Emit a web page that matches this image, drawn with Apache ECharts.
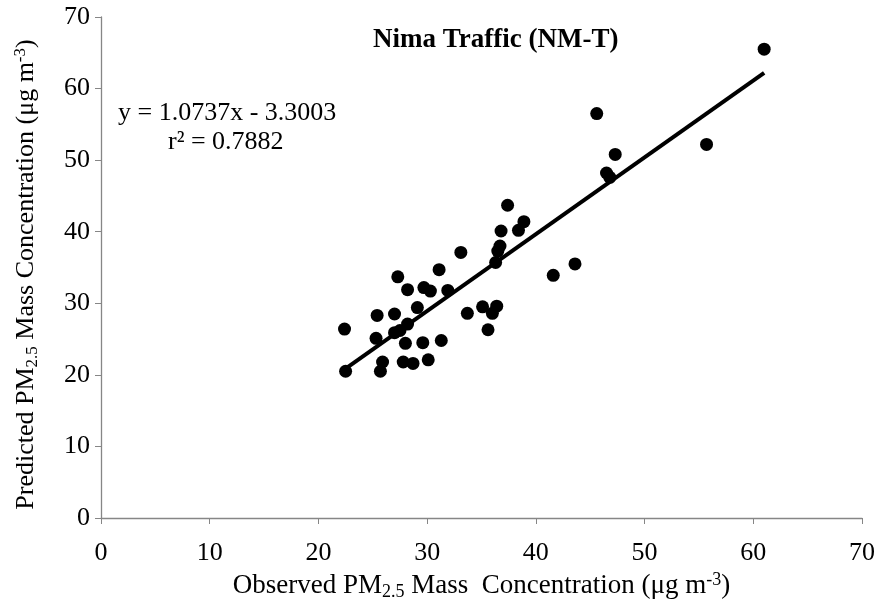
<!DOCTYPE html>
<html><head><meta charset="utf-8">
<script src="https://cdn.jsdelivr.net/npm/echarts@6/dist/echarts.min.js"></script>
<style>html,body{margin:0;padding:0;background:#fff}#c{width:879px;height:606px}</style>
</head><body><div id="c"></div>
<script>
const observed = [22.4,22.5,25.4,25.3,25.9,25.7,27.3,27.0,27.0,27.5,28.2,28.2,28.0,27.8,28.7,29.1,29.7,30.3,29.6,30.1,31.1,31.9,31.3,33.1,33.7,35.1,36.4,36.0,35.6,36.3,36.5,36.7,41.6,43.6,61.0,45.6,55.7,47.3,46.5,46.8,37.4,38.9,38.4,36.8];
const predicted = [26.4,20.5,28.3,25.1,21.8,20.5,33.7,28.5,25.9,26.2,27.1,31.9,24.4,21.8,21.6,29.4,32.2,31.7,24.5,22.1,34.7,31.8,24.8,37.1,28.6,29.5,29.6,28.6,26.3,35.7,37.3,38.0,33.9,35.5,65.5,56.5,52.2,50.8,48.2,47.6,43.7,41.4,40.2,40.1];
const slope = 1.0737, intercept = -3.3003;
const trendX = [22.4, 61.0];
const xTicks = [0,10,20,30,40,50,60,70];
const yTicks = [0,10,20,30,40,50,60,70];
const titleText = 'Nima Traffic (NM-T)';
const eqText = 'y = 1.0737x - 3.3003';
const r2Text = 'r² = 0.7882';

const points = observed.map((x,i)=>[x, predicted[i]]);
const trend = trendX.map(x=>[x, slope*x+intercept]);
const FONT = '"Liberation Serif", "Times New Roman", serif';
function richSet(main, small){
  return {
    n:{fontFamily:FONT,fontSize:main,color:'#000',lineHeight:main+3},
    sub:{fontFamily:FONT,fontSize:small,color:'#000',verticalAlign:'bottom',lineHeight:small},
    sup:{fontFamily:FONT,fontSize:small,color:'#000',verticalAlign:'top',lineHeight:small}
  };
}
const axisLine = {show:true,lineStyle:{color:'#868686',width:1.3}};
const chart = echarts.init(document.getElementById('c'), null, {renderer:'canvas'});
chart.setOption({
  animation:false,
  backgroundColor:'#fff',
  grid:{left:101,top:17,width:761,height:501,containLabel:false},
  xAxis:{type:'value',min:xTicks[0],max:xTicks[xTicks.length-1],interval:10,
    axisLine:axisLine,axisTick:{show:true,length:6,lineStyle:{color:'#868686'}},splitLine:{show:false},
    axisLabel:{fontFamily:FONT,fontSize:26,color:'#000',margin:22},
    name:'{n|Observed PM}{sub|2.5}{n| Mass  Concentration (μg m}{sup|-3}{n|)}',
    nameLocation:'middle',nameGap:51,nameTextStyle:{rich:richSet(27,18)}},
  yAxis:{type:'value',min:yTicks[0],max:yTicks[yTicks.length-1],interval:10,
    axisLine:axisLine,axisTick:{show:true,length:6,lineStyle:{color:'#868686'}},splitLine:{show:false},
    axisLabel:{fontFamily:FONT,fontSize:26,color:'#000',margin:11},
    name:'{n|Predicted PM}{sub|2.5}{n| Mass Concentration (μg m}{sup|-3}{n|)}',
    nameLocation:'middle',nameGap:60,nameRotate:90,nameTextStyle:{rich:richSet(26,17),padding:[0,14,0,0]}},
  graphic:[
    {type:'text',left:373,top:27,style:{text:titleText,font:'bold 27px '+FONT,fill:'#000'}},
    {type:'text',left:118,top:100,style:{text:eqText,font:'26px '+FONT,fill:'#000'}},
    {type:'text',left:168,top:129,style:{text:r2Text,font:'26px '+FONT,fill:'#000'}}
  ],
  series:[
    {type:'scatter',data:points,symbolSize:13,itemStyle:{color:'#000',opacity:1},z:3},
    {type:'line',data:trend,showSymbol:false,symbol:'none',lineStyle:{color:'#000',width:4},z:2}
  ]
});
</script></body></html>
